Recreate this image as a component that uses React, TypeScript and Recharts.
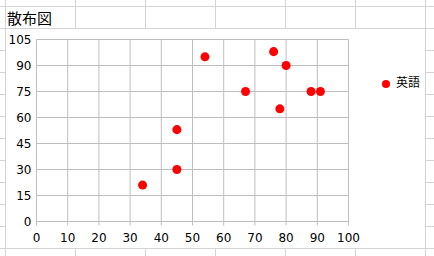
import React from 'react';
import { ScatterChart, Scatter, XAxis, YAxis, ZAxis, CartesianGrid, Legend } from 'recharts';

const chartTitle = '散布図';
const seriesName = '英語';
const xValues = [34, 45, 45, 54, 67, 76, 78, 80, 88, 91];
const yValues = [21, 30, 53, 95, 75, 98, 65, 90, 75, 75];
const xTicks = [0, 10, 20, 30, 40, 50, 60, 70, 80, 90, 100];
const yTicks = [0, 15, 30, 45, 60, 75, 90, 105];

const data = xValues.map((x, i) => ({ x, y: yValues[i] }));

// spreadsheet background layout (not data)
const sheetRows = [6, 28, 50, 72, 94, 116, 138, 160, 182, 204, 226, 248];
const sheetCols = [5, 75, 145, 215, 285, 355, 425];

const CELL = '#d4d4d4';
const GRID = '#bfbfbf';
const TICK_FONT = 'DejaVu Sans, Verdana, sans-serif';
const CJK_FONT = '"Noto Sans CJK JP", sans-serif';

export default function App() {
  return (
    <div style={{ position: 'absolute', left: 0, top: 0, width: 434, height: 256, background: '#fff', overflow: 'hidden' }}>
      {sheetRows.map((y) => (
        <div key={'r' + y} style={{ position: 'absolute', left: 0, top: y, width: 434, height: 1, background: CELL }} />
      ))}
      {sheetCols.map((x) => (
        <div key={'c' + x} style={{ position: 'absolute', left: x, top: 0, width: 1, height: 256, background: CELL }} />
      ))}
      <div style={{ position: 'absolute', left: 6, top: 29, width: 419, height: 219, background: '#fff' }} />
      <div style={{ position: 'absolute', left: 7, top: 10, fontFamily: CJK_FONT, fontSize: 15, lineHeight: '15px', color: '#000' }}>
        {chartTitle}
      </div>
      <div style={{ position: 'absolute', left: 0, top: 0 }}>
        <ScatterChart width={434} height={256} margin={{ top: 39.5, right: 85.5, bottom: 0, left: 0 }}>
          <CartesianGrid stroke={GRID} strokeWidth={1} />
          <XAxis
            type="number"
            dataKey="x"
            domain={[0, 100]}
            ticks={xTicks}
            interval={0}
            height={34.5}
            axisLine={{ stroke: GRID }}
            tickLine={{ stroke: GRID }}
            tickSize={4}
            tickMargin={8}
            tick={{ fill: '#000', fontSize: 12, fontFamily: TICK_FONT }}
          />
          <YAxis
            type="number"
            dataKey="y"
            domain={[0, 105]}
            ticks={yTicks}
            interval={0}
            width={36.5}
            axisLine={{ stroke: GRID }}
            tickLine={false}
            tickSize={0}
            tickMargin={5}
            tick={{ fill: '#000', fontSize: 12, fontFamily: TICK_FONT }}
          />
          <ZAxis range={[48, 48]} />
          <Legend
            layout="vertical"
            align="center"
            verticalAlign="middle"
            iconType="circle"
            iconSize={8}
            formatter={(v) => <span style={{ color: '#000', marginLeft: 2 }}>{v}</span>}
            wrapperStyle={{ left: 382, top: 73, width: 50, fontSize: 12, fontFamily: CJK_FONT, lineHeight: '18px' }}
          />
          <Scatter name={seriesName} data={data} fill="#ff0000" isAnimationActive={false} />
        </ScatterChart>
      </div>
    </div>
  );
}
